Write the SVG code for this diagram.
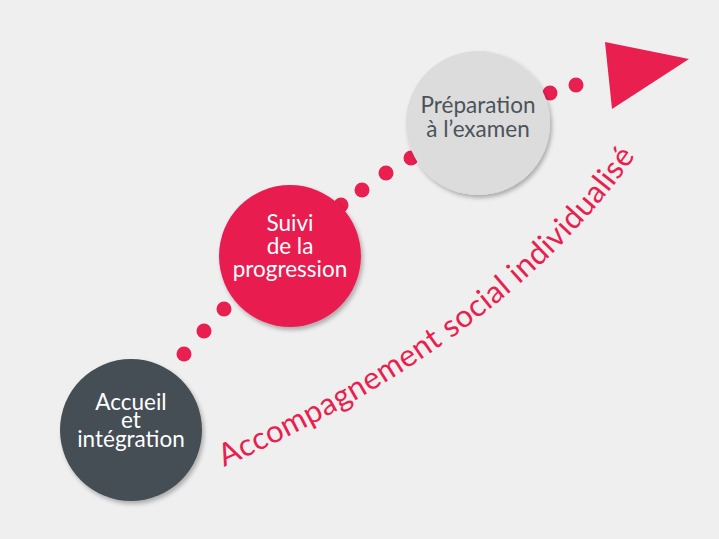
<svg xmlns="http://www.w3.org/2000/svg" width="719" height="539" viewBox="0 0 719 539">
<defs>
<filter id="sh" x="-20%" y="-20%" width="140%" height="140%">
<feDropShadow dx="2" dy="3" stdDeviation="2" flood-color="#000" flood-opacity="0.28"/>
</filter>
<path id="curve" d="M 224 467 Q 512 338 641 148"/>
</defs>
<style>
.dot{fill:#e81f4f}
.lbl{font-family:Lato,"Open Sans","Liberation Sans",sans-serif;font-size:22.5px;text-anchor:middle}
.w{fill:#ffffff}
.g{fill:#4b535a}
.curve{font-family:Lato,"Open Sans","Liberation Sans",sans-serif;font-size:31px;fill:#e81f4f}
</style>
<rect width="719" height="539" fill="#efefef"/>
<g id="connectors">
<circle class="dot" cx="184" cy="354" r="7.5"/>
<circle class="dot" cx="204" cy="331" r="7.5"/>
<circle class="dot" cx="224" cy="309" r="7.5"/>
<circle class="dot" cx="341" cy="205" r="7.5"/>
<circle class="dot" cx="362" cy="190" r="7.5"/>
<circle class="dot" cx="386" cy="173" r="7.5"/>
<circle class="dot" cx="411" cy="158" r="7.5"/>
<circle class="dot" cx="550" cy="93" r="7.5"/>
<circle class="dot" cx="576" cy="85" r="7.5"/>
<polygon class="dot" points="605,42 689,59 612,109"/>
</g>
<g id="node-accueil">
<circle cx="131" cy="430" r="71" fill="#444d55" filter="url(#sh)"/>
<text class="lbl w" x="131" y="410">Accueil</text>
<text class="lbl w" x="131" y="428">et</text>
<text class="lbl w" x="131" y="447">intégration</text>
</g>
<g id="node-suivi">
<circle cx="290" cy="256" r="71" fill="#e81f4f" filter="url(#sh)"/>
<text class="lbl w" x="290" y="231">Suivi</text>
<text class="lbl w" x="290" y="254">de la</text>
<text class="lbl w" x="290" y="277">progression</text>
</g>
<g id="node-preparation">
<circle cx="478" cy="123" r="72" fill="#dcdcdc" filter="url(#sh)"/>
<text class="lbl g" x="478" y="113">Préparation</text>
<text class="lbl g" x="478" y="137">à l’examen</text>
</g>
<g id="label-accompagnement">
<text class="curve"><textPath href="#curve" textLength="522" lengthAdjust="spacing">Accompagnement social individualisé</textPath></text>
</g>
</svg>
